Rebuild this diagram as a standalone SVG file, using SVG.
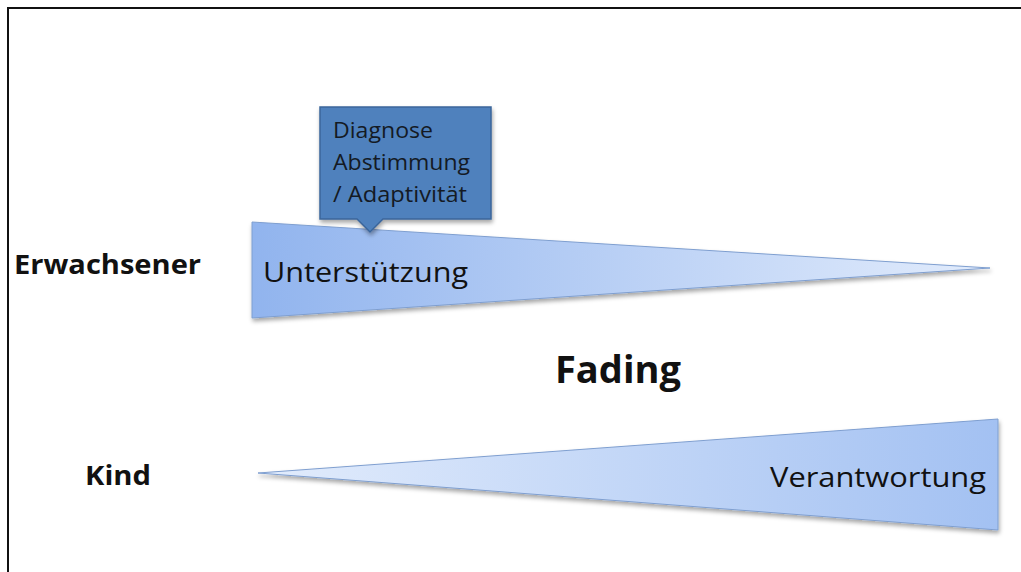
<svg xmlns="http://www.w3.org/2000/svg" width="1021" height="572" viewBox="0 0 1021 572">
  <style>
    .lbl { font-family: "Open Sans", "Liberation Sans", sans-serif; fill: #111; font-variant-ligatures: none; }
    .bold { font-weight: bold; }
    .wedge { stroke: #7f9fd0; stroke-width: 1; }
    .call { font-family: "Open Sans", "Liberation Sans", sans-serif; font-size: 21px; fill: #141a24; font-variant-ligatures: none; }
  </style>
  <defs>
    <linearGradient id="gradFade" x1="0" y1="0" x2="1" y2="0">
      <stop offset="0" stop-color="#91b4ee"/>
      <stop offset="1" stop-color="#e2ecfc"/>
    </linearGradient>
    <linearGradient id="gradGrow" x1="0" y1="0" x2="1" y2="0">
      <stop offset="0" stop-color="#e2ecfc"/>
      <stop offset="1" stop-color="#a3c1f2"/>
    </linearGradient>
    <filter id="shadow" x="-5%" y="-20%" width="110%" height="150%">
      <feDropShadow dx="1" dy="3" stdDeviation="2" flood-color="#000" flood-opacity="0.35"/>
    </filter>
  </defs>

  <rect width="1021" height="572" fill="#ffffff"/>
  <!-- frame: only top and left edges fall inside the canvas -->
  <path d="M8 572 V8 H1021" fill="none" stroke="#111" stroke-width="2"/>

  <!-- row labels -->
  <g id="label-erwachsener">
    <text class="lbl bold" x="14" y="274" font-size="26" textLength="187" lengthAdjust="spacingAndGlyphs">Erwachsener</text>
  </g>
  <g id="label-kind">
    <text class="lbl bold" x="85" y="485" font-size="26" textLength="66" lengthAdjust="spacingAndGlyphs">Kind</text>
  </g>
  <g id="label-fading">
    <text class="lbl bold" x="555" y="383" font-size="38" textLength="126" lengthAdjust="spacingAndGlyphs">Fading</text>
  </g>

  <!-- support wedge, narrowing to the right -->
  <g id="wedge-unterstuetzung">
    <polygon class="wedge" points="252,222 990,268 252,318" fill="url(#gradFade)" filter="url(#shadow)"/>
    <text class="lbl" x="263" y="282" font-size="27" textLength="205" lengthAdjust="spacingAndGlyphs">Unterstützung</text>
  </g>

  <!-- responsibility wedge, widening to the right -->
  <g id="wedge-verantwortung">
    <polygon class="wedge" points="258,473 998,419 998,530" fill="url(#gradGrow)" filter="url(#shadow)"/>
    <text class="lbl" x="770" y="487" font-size="27" textLength="216" lengthAdjust="spacingAndGlyphs">Verantwortung</text>
  </g>

  <!-- callout pointing at the support wedge -->
  <g id="callout-diagnose">
    <path d="M320 107 H491 V219 H383 L370 232 L357 219 H320 Z" fill="#4f81bd" stroke="#3b659a" stroke-width="1.5" filter="url(#shadow)"/>
    <text class="call" x="333" y="138" textLength="100" lengthAdjust="spacingAndGlyphs">Diagnose</text>
    <text class="call" x="333" y="170" textLength="137" lengthAdjust="spacingAndGlyphs">Abstimmung</text>
    <text class="call" x="333" y="202" textLength="134" lengthAdjust="spacingAndGlyphs">/ Adaptivität</text>
  </g>
</svg>
